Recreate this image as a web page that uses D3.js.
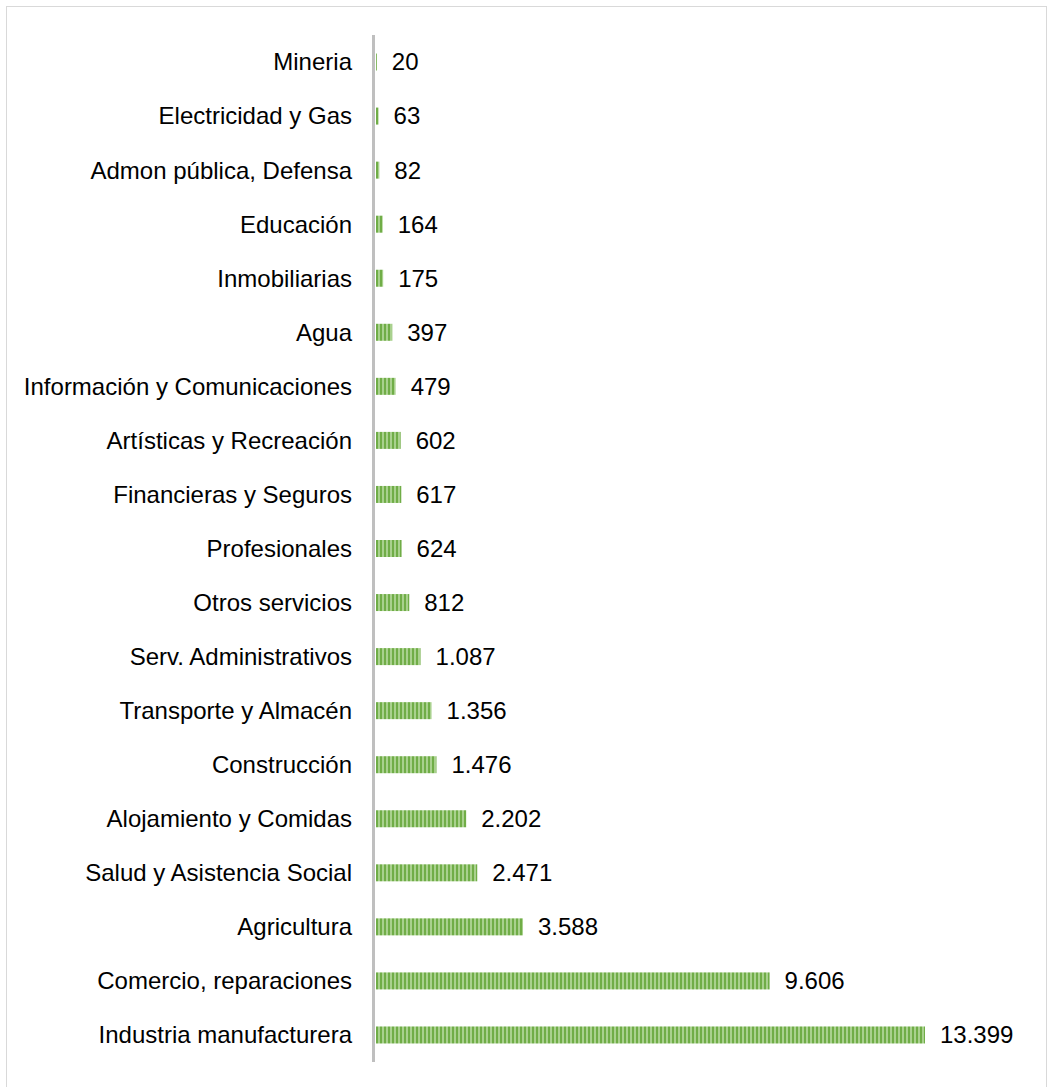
<!DOCTYPE html>
<html>
<head>
<meta charset="utf-8">
<script src="https://cdn.jsdelivr.net/npm/d3@7"></script>
<style>
  body { margin: 0; background: #fff; }
  text { font-family: "Liberation Sans", Arial, sans-serif; fill: #000; }
</style>
</head>
<body>
<div id="chart"></div>
<script>
// data
var categories = ["Mineria", "Electricidad y Gas", "Admon pública, Defensa", "Educación",
  "Inmobiliarias", "Agua", "Información y Comunicaciones", "Artísticas y Recreación",
  "Financieras y Seguros", "Profesionales", "Otros servicios", "Serv. Administrativos",
  "Transporte y Almacén", "Construcción", "Alojamiento y Comidas",
  "Salud y Asistencia Social", "Agricultura", "Comercio, reparaciones", "Industria manufacturera"];
var values = [20, 63, 82, 164, 175, 397, 479, 602, 617, 624, 812, 1087, 1356, 1476, 2202, 2471, 3588, 9606, 13399];

var width = 1047, height = 1087;

var esLocale = d3.formatLocale({decimal: ",", thousands: ".", grouping: [3], currency: ["$", ""]});
var fmt = esLocale.format(",d");

var svg = d3.select("#chart").append("svg")
  .attr("width", width)
  .attr("height", height);

// stripes like the original fill
var defs = svg.append("defs");
var pat = defs.append("pattern")
  .attr("id", "stripes")
  .attr("patternUnits", "userSpaceOnUse")
  .attr("width", 4)
  .attr("height", 10);
pat.append("rect").attr("width", 4).attr("height", 10).attr("fill", "#a9d18e");
pat.append("rect").attr("width", 2).attr("height", 10).attr("fill", "#70ad47");

// chart border
svg.append("rect")
  .attr("x", 6.5).attr("y", 6.5)
  .attr("width", 1040).attr("height", 1100)
  .attr("fill", "none")
  .attr("stroke", "#d9d9d9")
  .attr("stroke-width", 1);

var x = d3.scaleLinear()
  .domain([0, 13399])
  .range([376, 925]);

var y = d3.scaleBand()
  .domain(categories)
  .range([35, 1062])
  .paddingInner(0.68)
  .paddingOuter(0.34);

svg.selectAll("rect.bar")
  .data(values)
  .enter().append("rect")
  .attr("class", "bar")
  .attr("x", x(0))
  .attr("y", function(d, i) { return y(categories[i]) + y.bandwidth() / 2 - 8.5; })
  .attr("width", function(d) { return x(d) - x(0); })
  .attr("height", 17)
  .attr("fill", "url(#stripes)");

// category labels
svg.selectAll("text.cat")
  .data(categories)
  .enter().append("text")
  .attr("class", "cat")
  .attr("x", 352)
  .attr("y", function(d) { return y(d) + y.bandwidth() / 2; })
  .attr("dy", "0.35em")
  .attr("text-anchor", "end")
  .style("font-size", "24px")
  .text(function(d) { return d; });

// value labels
svg.selectAll("text.val")
  .data(values)
  .enter().append("text")
  .attr("class", "val")
  .attr("x", function(d) { return x(d) + 15; })
  .attr("y", function(d, i) { return y(categories[i]) + y.bandwidth() / 2; })
  .attr("dy", "0.35em")
  .style("font-size", "24px")
  .text(function(d) { return fmt(d); });

// axis line
svg.append("line")
  .attr("x1", 373.5).attr("x2", 373.5)
  .attr("y1", 35).attr("y2", 1062)
  .attr("stroke", "#bfbfbf")
  .attr("stroke-width", 3);
</script>
</body>
</html>
